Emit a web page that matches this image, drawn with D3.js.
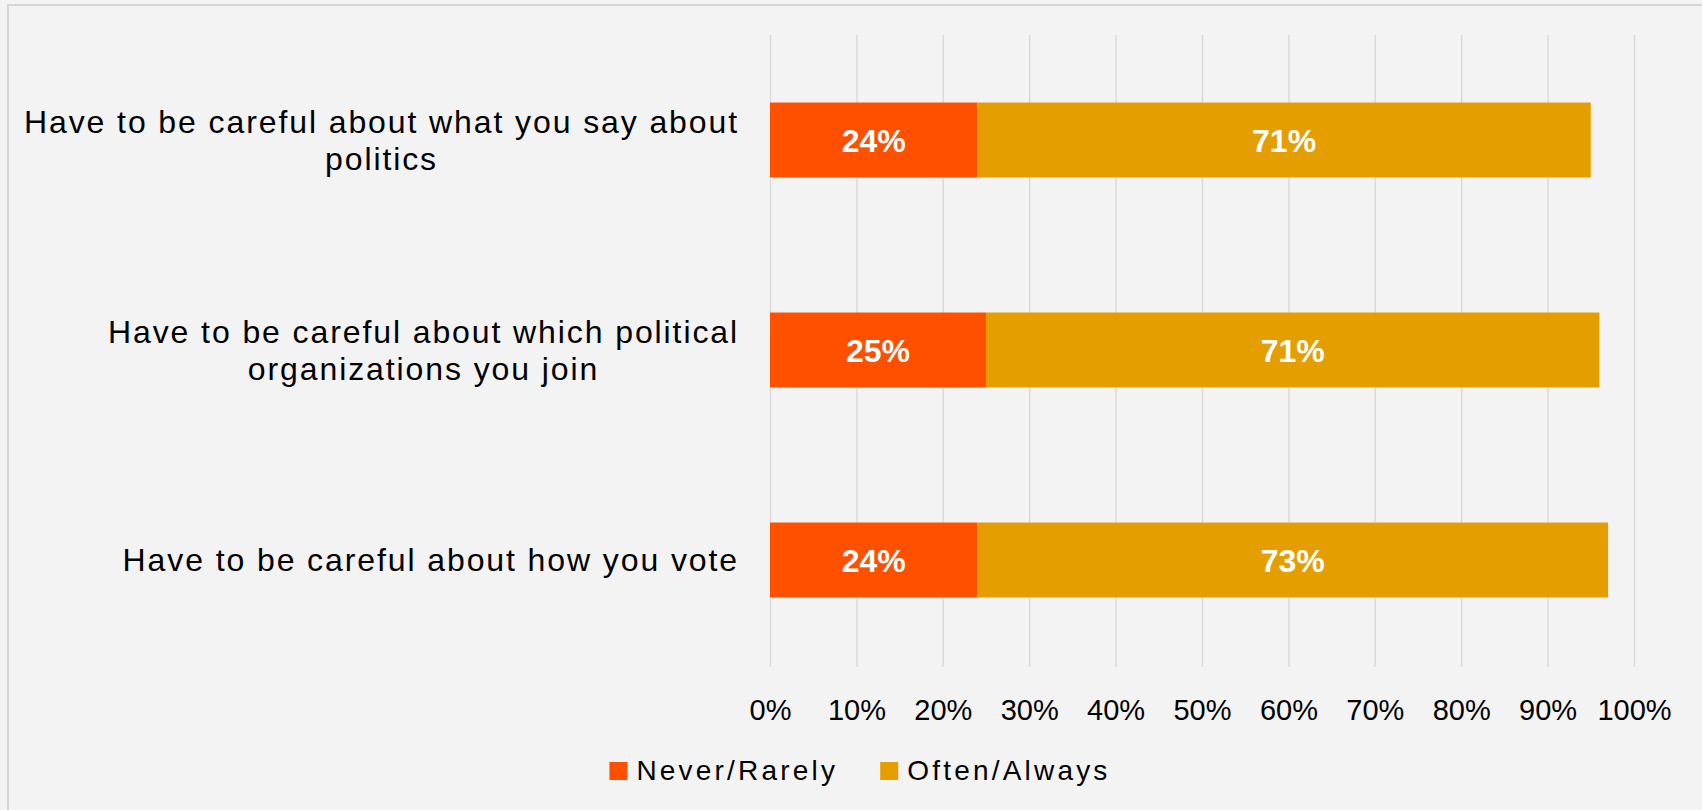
<!DOCTYPE html>
<html>
<head>
<meta charset="utf-8">
<script src="https://cdn.jsdelivr.net/npm/d3@7"></script>
<style>
  html, body { margin: 0; padding: 0; background: #f3f3f3; }
  svg { display: block; }
  text { font-family: "Liberation Sans", Arial, sans-serif; }
</style>
</head>
<body>
<svg id="chart" width="1702" height="810"></svg>
<script>
// ---------------- data ----------------
const categories = [
  "Have to be careful about what you say about politics",
  "Have to be careful about which political organizations you join",
  "Have to be careful about how you vote"
];
const categoryLines = [
  ["Have to be careful about what you say about", "politics"],
  ["Have to be careful about which political", "organizations you join"],
  ["Have to be careful about how you vote"]
];
const seriesNames = ["Never/Rarely", "Often/Always"];
const neverRarely = [24, 25, 24];
const oftenAlways = [71, 71, 73];
const tickValues = [0, 10, 20, 30, 40, 50, 60, 70, 80, 90, 100];
const tickLabels = ["0%", "10%", "20%", "30%", "40%", "50%", "60%", "70%", "80%", "90%", "100%"];

// ---------------- layout / style ----------------
const W = 1702, H = 810;
const plot = { left: 770, right: 1634, top: 35, bottom: 667 };
const colors = ["#FF5000", "#E59E00"];
const gridColor = "#dadada";

const svg = d3.select("#chart");

// background and frame
svg.append("rect").attr("x", 0).attr("y", 0).attr("width", W).attr("height", H).attr("fill", "#f3f3f3");
svg.append("rect").attr("x", 8).attr("y", 5).attr("width", W + 20).attr("height", H + 20)
  .attr("fill", "none").attr("stroke", "#d6d6d6").attr("stroke-width", 2);

const x = d3.scaleLinear().domain([0, 100]).range([plot.left, plot.right]);
const y = d3.scaleBand().domain(categories).range([plot.top, plot.bottom - 2])
  .paddingInner(0.643).paddingOuter(0.3215);

// gridlines + tick labels via axis
const axis = d3.axisBottom(x)
  .tickValues(tickValues)
  .tickFormat((d, i) => tickLabels[i])
  .tickSize(-(plot.bottom - plot.top))
  .tickPadding(0);

const gAxis = svg.append("g").attr("transform", `translate(0,${plot.bottom})`).call(axis);
gAxis.select(".domain").remove();
gAxis.selectAll(".tick line").attr("stroke", gridColor).attr("stroke-width", 1.5);
gAxis.selectAll(".tick text")
  .attr("y", 53).attr("dy", 0)
  .attr("fill", "#000")
  .style("font-size", "29px")
  .style("font-family", "'Liberation Sans', Arial, sans-serif");

// stacked bars
const rows = categories.map((c, i) => ({ cat: c, vals: [neverRarely[i], oftenAlways[i]] }));
const segs = [];
rows.forEach((r, i) => {
  let acc = 0;
  r.vals.forEach((v, s) => {
    segs.push({ cat: r.cat, s, x0: acc, x1: acc + v, v });
    acc += v;
  });
});

svg.append("g").selectAll("rect").data(segs).join("rect")
  .attr("x", d => x(d.x0))
  .attr("y", d => y(d.cat))
  .attr("width", d => x(d.x1) - x(d.x0))
  .attr("height", y.bandwidth())
  .attr("fill", d => colors[d.s]);

// data labels
svg.append("g").selectAll("text").data(segs).join("text")
  .attr("x", d => (x(d.x0) + x(d.x1)) / 2)
  .attr("y", d => y(d.cat) + y.bandwidth() / 2 + 12)
  .attr("text-anchor", "middle")
  .attr("fill", "#fff")
  .style("font-size", "32px")
  .style("font-weight", "bold")
  .text(d => d.v + "%");

// category labels (wrapped, centered on longest line, right-aligned block)
const labelRight = 739;
const lineH = 37;
const gCat = svg.append("g");
categories.forEach((c, i) => {
  const lines = categoryLines[i];
  const g = gCat.append("g");
  const texts = lines.map(l => g.append("text")
    .style("font-size", "32px")
    .style("letter-spacing", "1.9px")
    .attr("fill", "#000")
    .text(l));
  const maxW = d3.max(texts, t => t.node().getComputedTextLength());
  const cx = labelRight - maxW / 2;
  const cy = y(c) + y.bandwidth() / 2;
  const n = lines.length;
  texts.forEach((t, k) => {
    t.attr("text-anchor", "middle")
     .attr("x", cx)
     .attr("y", cy + 11 + (k - (n - 1) / 2) * lineH);
  });
});

// legend
const legend = svg.append("g");
let lx = 0;
seriesNames.forEach((name, i) => {
  const g = legend.append("g");
  g.append("rect").attr("x", 0).attr("y", -18).attr("width", 18).attr("height", 18).attr("fill", colors[i]);
  const t = g.append("text").attr("x", 27).attr("y", 0)
    .style("font-size", "28px").style("letter-spacing", "3.2px")
    .attr("fill", "#000").text(name);
  const w = 27 + t.node().getComputedTextLength();
  g.attr("transform", `translate(${lx},0)`);
  lx += w + 42;
});
const totalW = lx - 42;
legend.attr("transform", `translate(${860 - totalW / 2},780)`);
</script>
</body>
</html>
